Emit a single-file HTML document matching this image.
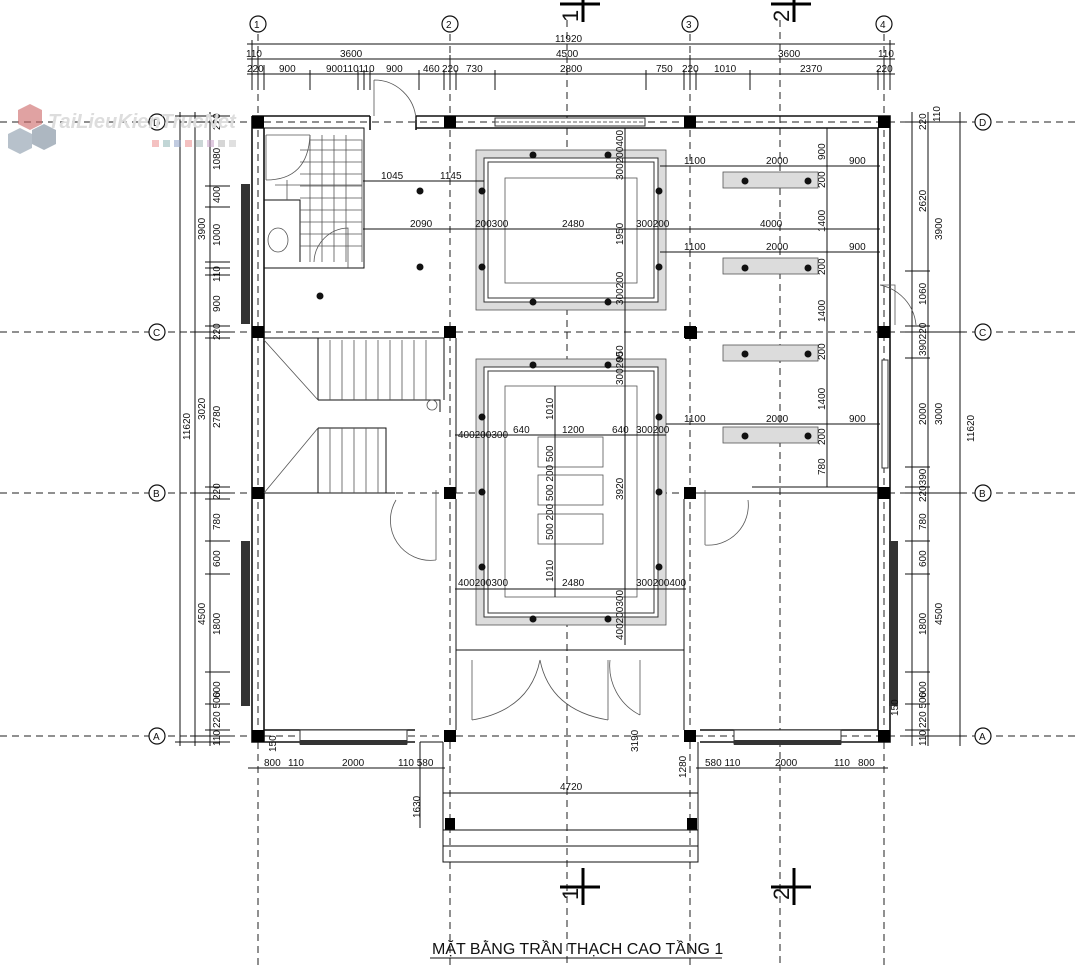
<!DOCTYPE html>
<html><head><meta charset="utf-8"><style>
html,body{margin:0;padding:0;background:#fff}
svg{display:block}
text{font-family:"Liberation Sans",sans-serif;font-size:10px;fill:#111}
.ln{stroke:#111;stroke-width:1;fill:none}
.th{stroke:#111;stroke-width:1.6;fill:none}
.dsh{stroke:#222;stroke-width:1;stroke-dasharray:7 5;fill:none}
.hat{fill:#dcdcdc;stroke:#555;stroke-width:0.8}
.col{fill:#000}
.gc{fill:#fff;stroke:#111;stroke-width:1.2}
.dot{fill:#111}
.thin{stroke:#555;stroke-width:0.8;fill:none}
</style></head><body>
<svg width="1080" height="965" viewBox="0 0 1080 965" xmlns="http://www.w3.org/2000/svg">
<g class="dsh">
<line x1="258" y1="34" x2="258" y2="965"/><line x1="450" y1="34" x2="450" y2="965"/>
<line x1="690" y1="34" x2="690" y2="965"/><line x1="884" y1="34" x2="884" y2="965"/>
<line x1="567" y1="20" x2="567" y2="965"/><line x1="780" y1="20" x2="780" y2="965"/>
<line x1="0" y1="122" x2="1080" y2="122"/><line x1="0" y1="332" x2="1080" y2="332"/>
<line x1="0" y1="493" x2="1080" y2="493"/><line x1="0" y1="736" x2="1080" y2="736"/>
</g>
<g>
<circle class="gc" cx="258" cy="24" r="8"/><text x="254" y="28">1</text>
<circle class="gc" cx="450" cy="24" r="8"/><text x="446" y="28">2</text>
<circle class="gc" cx="690" cy="24" r="8"/><text x="686" y="28">3</text>
<circle class="gc" cx="884" cy="24" r="8"/><text x="880" y="28">4</text>
<circle class="gc" cx="157" cy="122" r="8"/><text x="153" y="126">D</text>
<circle class="gc" cx="157" cy="332" r="8"/><text x="153" y="336">C</text>
<circle class="gc" cx="157" cy="493" r="8"/><text x="153" y="497">B</text>
<circle class="gc" cx="157" cy="736" r="8"/><text x="153" y="740">A</text>
<circle class="gc" cx="983" cy="122" r="8"/><text x="979" y="126">D</text>
<circle class="gc" cx="983" cy="332" r="8"/><text x="979" y="336">C</text>
<circle class="gc" cx="983" cy="493" r="8"/><text x="979" y="497">B</text>
<circle class="gc" cx="983" cy="736" r="8"/><text x="979" y="740">A</text>
</g>
<g stroke="#000" stroke-width="3">
<line x1="583" y1="0" x2="583" y2="22"/><line x1="560" y1="4" x2="600" y2="4"/>
<line x1="794" y1="0" x2="794" y2="22"/><line x1="771" y1="4" x2="811" y2="4"/>
<line x1="583" y1="868" x2="583" y2="905"/><line x1="560" y1="887" x2="600" y2="887"/>
<line x1="794" y1="868" x2="794" y2="905"/><line x1="771" y1="887" x2="811" y2="887"/>
</g>
<text style="font-size:22px" transform="translate(578 22) rotate(-90)">1</text>
<text style="font-size:22px" transform="translate(789 22) rotate(-90)">2</text>
<text style="font-size:22px" transform="translate(578 900) rotate(-90)">1</text>
<text style="font-size:22px" transform="translate(789 900) rotate(-90)">2</text>
<g class="ln">
<line x1="247" y1="44" x2="895" y2="44"/><line x1="247" y1="59" x2="895" y2="59"/><line x1="247" y1="74" x2="895" y2="74"/>
<line x1="252" y1="40" x2="252" y2="90"/><line x1="890" y1="40" x2="890" y2="90"/>
<line x1="258" y1="55" x2="258" y2="90"/><line x1="264" y1="65" x2="264" y2="90"/><line x1="310" y1="70" x2="310" y2="90"/>
<line x1="358" y1="70" x2="358" y2="90"/><line x1="364" y1="70" x2="364" y2="90"/><line x1="370" y1="70" x2="370" y2="90"/>
<line x1="419" y1="70" x2="419" y2="90"/><line x1="444" y1="70" x2="444" y2="90"/><line x1="450" y1="55" x2="450" y2="90"/><line x1="456" y1="70" x2="456" y2="90"/>
<line x1="495" y1="70" x2="495" y2="90"/><line x1="646" y1="70" x2="646" y2="90"/><line x1="684" y1="70" x2="684" y2="90"/><line x1="690" y1="55" x2="690" y2="90"/><line x1="696" y1="70" x2="696" y2="90"/>
<line x1="750" y1="70" x2="750" y2="90"/><line x1="878" y1="70" x2="878" y2="90"/><line x1="884" y1="55" x2="884" y2="90"/>
</g>
<text x="555" y="42">11920</text>
<text x="246" y="57">110</text><text x="340" y="57">3600</text><text x="556" y="57">4500</text><text x="778" y="57">3600</text><text x="878" y="57">110</text>
<text x="247" y="72">220</text><text x="279" y="72">900</text><text x="326" y="72">900110110</text><text x="386" y="72">900</text><text x="423" y="72">460</text><text x="442" y="72">220</text><text x="466" y="72">730</text><text x="560" y="72">2800</text><text x="656" y="72">750</text><text x="682" y="72">220</text><text x="714" y="72">1010</text><text x="800" y="72">2370</text><text x="876" y="72">220</text>
<g class="ln">
<line x1="180" y1="112" x2="180" y2="746"/><line x1="195" y1="112" x2="195" y2="746"/><line x1="210" y1="112" x2="210" y2="746"/>
<line x1="175" y1="116" x2="230" y2="116"/><line x1="175" y1="742" x2="230" y2="742"/>
<line x1="190" y1="122" x2="230" y2="122"/><line x1="190" y1="332" x2="230" y2="332"/><line x1="190" y1="493" x2="230" y2="493"/><line x1="190" y1="736" x2="230" y2="736"/>
<line x1="205" y1="186" x2="230" y2="186"/><line x1="205" y1="207" x2="230" y2="207"/><line x1="205" y1="262" x2="230" y2="262"/><line x1="205" y1="268" x2="230" y2="268"/><line x1="205" y1="275" x2="230" y2="275"/><line x1="205" y1="326" x2="230" y2="326"/>
<line x1="205" y1="338" x2="230" y2="338"/><line x1="205" y1="487" x2="230" y2="487"/><line x1="205" y1="499" x2="230" y2="499"/><line x1="205" y1="541" x2="230" y2="541"/><line x1="205" y1="574" x2="230" y2="574"/><line x1="205" y1="672" x2="230" y2="672"/><line x1="205" y1="704" x2="230" y2="704"/><line x1="205" y1="730" x2="230" y2="730"/>
</g>
<g>
<text transform="translate(190 440) rotate(-90)">11620</text>
<text transform="translate(205 240) rotate(-90)">3900</text>
<text transform="translate(205 420) rotate(-90)">3020</text>
<text transform="translate(205 625) rotate(-90)">4500</text>
<text transform="translate(220 130) rotate(-90)">220</text>
<text transform="translate(220 170) rotate(-90)">1080</text>
<text transform="translate(220 203) rotate(-90)">400</text>
<text transform="translate(220 246) rotate(-90)">1000</text>
<text transform="translate(220 282) rotate(-90)">110</text>
<text transform="translate(220 312) rotate(-90)">900</text>
<text transform="translate(220 340) rotate(-90)">220</text>
<text transform="translate(220 428) rotate(-90)">2780</text>
<text transform="translate(220 500) rotate(-90)">220</text>
<text transform="translate(220 530) rotate(-90)">780</text>
<text transform="translate(220 567) rotate(-90)">600</text>
<text transform="translate(220 635) rotate(-90)">1800</text>
<text transform="translate(220 698) rotate(-90)">600</text>
<text transform="translate(220 728) rotate(-90)">220 500</text>
<text transform="translate(220 746) rotate(-90)">110</text>
</g>
<g class="ln">
<line x1="912" y1="112" x2="912" y2="746"/><line x1="928" y1="112" x2="928" y2="746"/><line x1="960" y1="112" x2="960" y2="746"/>
<line x1="905" y1="122" x2="965" y2="122"/><line x1="905" y1="332" x2="965" y2="332"/><line x1="905" y1="493" x2="965" y2="493"/><line x1="905" y1="736" x2="965" y2="736"/>
<line x1="905" y1="271" x2="930" y2="271"/><line x1="905" y1="326" x2="930" y2="326"/><line x1="905" y1="358" x2="930" y2="358"/><line x1="905" y1="467" x2="930" y2="467"/><line x1="905" y1="487" x2="930" y2="487"/>
<line x1="905" y1="541" x2="930" y2="541"/><line x1="905" y1="574" x2="930" y2="574"/><line x1="905" y1="672" x2="930" y2="672"/><line x1="905" y1="704" x2="930" y2="704"/><line x1="905" y1="730" x2="930" y2="730"/>
</g>
<g>
<text transform="translate(926 130) rotate(-90)">220</text>
<text transform="translate(940 122) rotate(-90)">110</text>
<text transform="translate(926 212) rotate(-90)">2620</text>
<text transform="translate(942 240) rotate(-90)">3900</text>
<text transform="translate(926 305) rotate(-90)">1060</text>
<text transform="translate(926 356) rotate(-90)">390220</text>
<text transform="translate(926 425) rotate(-90)">2000</text>
<text transform="translate(942 425) rotate(-90)">3000</text>
<text transform="translate(974 442) rotate(-90)">11620</text>
<text transform="translate(926 502) rotate(-90)">220390</text>
<text transform="translate(926 530) rotate(-90)">780</text>
<text transform="translate(926 567) rotate(-90)">600</text>
<text transform="translate(926 635) rotate(-90)">1800</text>
<text transform="translate(942 625) rotate(-90)">4500</text>
<text transform="translate(926 698) rotate(-90)">600</text>
<text transform="translate(926 728) rotate(-90)">220 500</text>
<text transform="translate(926 746) rotate(-90)">110</text>
</g>
<g class="th">
<path d="M252 116 H370 M252 128 H264 M264 128 V742 M252 116 V742 H415"/>
<path d="M416 116 H890 V742 H700 M416 128 H878 V730"/>
<path d="M264 730 H415"/>
<path d="M700 730 H878"/>
<path d="M370 116 V130 M416 116 V130"/>
</g>
<rect x="495" y="118" width="150" height="8" fill="#fff" stroke="#333"/>
<line x1="495" y1="122" x2="645" y2="122" stroke="#666" stroke-dasharray="4 2"/>
<rect x="241" y="184" width="9" height="140" fill="#333"/>
<rect x="241" y="541" width="9" height="165" fill="#333"/>
<rect x="889" y="541" width="9" height="165" fill="#333"/>
<rect x="882" y="360" width="6" height="108" fill="#fff" stroke="#333"/>
<rect x="300" y="730" width="107" height="14" fill="#fff" stroke="#333"/>
<rect x="300" y="740" width="107" height="5" fill="#333"/>
<rect x="734" y="730" width="107" height="14" fill="#fff" stroke="#333"/>
<rect x="734" y="740" width="107" height="5" fill="#333"/>
<g class="col">
<rect x="252" y="116" width="12" height="12"/><rect x="444" y="116" width="12" height="12"/><rect x="684" y="116" width="12" height="12"/><rect x="878" y="116" width="12" height="12"/>
<rect x="252" y="326" width="12" height="12"/><rect x="444" y="326" width="12" height="12"/><rect x="684" y="326" width="12" height="12"/><rect x="878" y="326" width="12" height="12"/>
<rect x="252" y="487" width="12" height="12"/><rect x="444" y="487" width="12" height="12"/><rect x="684" y="487" width="12" height="12"/><rect x="878" y="487" width="12" height="12"/>
<rect x="252" y="730" width="12" height="12"/><rect x="444" y="730" width="12" height="12"/><rect x="684" y="730" width="12" height="12"/><rect x="878" y="730" width="12" height="12"/>
<rect x="445" y="818" width="10" height="12"/><rect x="687" y="818" width="10" height="12"/>
</g>
<path class="thin" d="M374 80 V116 M374 80 A42 42 0 0 1 416 120"/>
<g class="ln">
<rect x="264" y="128" width="100" height="140"/>
<path d="M264 200 H300 V262"/>
</g>
<g class="thin">
<path d="M266 135 H310 M266 135 V180 M266 180 Q308 180 310 135" />
<path d="M310 140 H362 V262 M300 150 H362 M300 162 H362 M300 174 H362 M300 186 H362 M300 198 H362 M300 210 H362 M300 222 H362 M300 234 H362 M300 246 H362 M275 185 H362"/>
<path d="M310 135 V262 M322 135 V262 M334 135 V262 M346 135 V262 M287 180 V200"/>
<ellipse cx="278" cy="240" rx="10" ry="12"/>
<path d="M314 262 A35 35 0 0 1 348 228 V268"/>
</g>
<g class="ln">
<path d="M264 338 H444 V400 M264 493 H395"/>
<path d="M318 338 V400 M318 428 V493 M318 400 H440 V412 M318 428 H386 V493"/>
</g>
<g class="thin">
<path d="M330 340 V400 M342 340 V400 M354 340 V400 M366 340 V400 M378 340 V400 M390 340 V400 M402 340 V400 M414 340 V400 M426 340 V400"/>
<path d="M330 428 V493 M342 428 V493 M354 428 V493 M366 428 V493 M378 428 V493"/>
<path d="M264 340 L318 400 M264 493 L318 428"/>
<circle cx="432" cy="405" r="5"/>
</g>
<g class="ln">
<path d="M456 338 V493 M456 499 V650 H684 V499"/>
<path d="M700 493 H878 M752 487 H878"/>
<path d="M456 650 V730 M684 650 V730"/>
</g>
<g class="thin">
<path d="M436 490 V560 M436 560 A40 40 0 0 1 396 500"/>
<path d="M705 490 V545 M705 545 A40 40 0 0 0 748 500"/>
<path d="M472 660 V720 M472 720 Q530 710 540 660 M608 660 V720 M608 720 Q550 710 540 660"/>
<path d="M640 660 V715 M640 715 A55 55 0 0 1 610 660"/>
<path d="M880 285 H895 V325 M880 285 A45 45 0 0 1 916 325"/>
</g>
<g class="ln">
<path d="M443 742 V862 H698 V742"/>
<path d="M443 830 H698 M443 846 H698"/>
<path d="M443 793 H698"/>
<path d="M420 742 V828 M420 742 H443"/>
</g>
<text x="560" y="790">4720</text>
<text transform="translate(420 818) rotate(-90)">1630</text>
<text transform="translate(686 778) rotate(-90)">1280</text>
<text transform="translate(638 752) rotate(-90)">3190</text>
<g class="ln"><line x1="248" y1="768" x2="445" y2="768"/><line x1="696" y1="768" x2="888" y2="768"/></g>
<text x="264" y="766">800</text><text x="288" y="766">110</text><text x="342" y="766">2000</text><text x="398" y="766">110 580</text>
<text x="705" y="766">580 110</text><text x="775" y="766">2000</text><text x="834" y="766">110</text><text x="858" y="766">800</text>
<text transform="translate(276 752) rotate(-90)">150</text><text transform="translate(898 716) rotate(-90)">150</text>
<rect class="hat" x="476" y="150" width="190" height="160"/>
<rect fill="#fff" stroke="#333" x="484" y="158" width="174" height="144"/>
<rect fill="none" stroke="#333" x="488" y="162" width="166" height="136"/>
<rect class="thin" x="505" y="178" width="132" height="105"/>
<rect class="hat" x="476" y="359" width="190" height="266"/>
<rect fill="#fff" stroke="#333" x="484" y="367" width="174" height="250"/>
<rect fill="none" stroke="#333" x="488" y="371" width="166" height="242"/>
<rect class="thin" x="505" y="386" width="132" height="211"/>
<rect class="thin" x="538" y="437" width="65" height="30"/>
<rect class="thin" x="538" y="475" width="65" height="30"/>
<rect class="thin" x="538" y="514" width="65" height="30"/>
<rect class="hat" x="723" y="172" width="95" height="16"/>
<rect class="hat" x="723" y="258" width="95" height="16"/>
<rect class="hat" x="723" y="345" width="95" height="16"/>
<rect class="hat" x="723" y="427" width="95" height="16"/>
<rect class="col" x="685" y="327" width="12" height="12"/>
<g class="dot">
<circle cx="533" cy="155" r="3.5"/><circle cx="608" cy="155" r="3.5"/><circle cx="533" cy="302" r="3.5"/><circle cx="608" cy="302" r="3.5"/>
<circle cx="482" cy="191" r="3.5"/><circle cx="482" cy="267" r="3.5"/><circle cx="659" cy="191" r="3.5"/><circle cx="659" cy="267" r="3.5"/>
<circle cx="420" cy="191" r="3.5"/><circle cx="420" cy="267" r="3.5"/><circle cx="320" cy="296" r="3.5"/>
<circle cx="533" cy="365" r="3.5"/><circle cx="608" cy="365" r="3.5"/><circle cx="533" cy="619" r="3.5"/><circle cx="608" cy="619" r="3.5"/>
<circle cx="482" cy="417" r="3.5"/><circle cx="482" cy="492" r="3.5"/><circle cx="482" cy="567" r="3.5"/>
<circle cx="659" cy="417" r="3.5"/><circle cx="659" cy="492" r="3.5"/><circle cx="659" cy="567" r="3.5"/>
<circle cx="745" cy="181" r="3.5"/><circle cx="808" cy="181" r="3.5"/><circle cx="745" cy="268" r="3.5"/><circle cx="808" cy="268" r="3.5"/>
<circle cx="745" cy="354" r="3.5"/><circle cx="808" cy="354" r="3.5"/><circle cx="745" cy="436" r="3.5"/><circle cx="808" cy="436" r="3.5"/>
</g>
<g class="ln">
<line x1="363" y1="181" x2="484" y2="181"/><line x1="363" y1="229" x2="880" y2="229"/>
<line x1="660" y1="166" x2="880" y2="166"/><line x1="660" y1="252" x2="880" y2="252"/>
<line x1="455" y1="435" x2="666" y2="435"/><line x1="666" y1="424" x2="880" y2="424"/><line x1="455" y1="589" x2="686" y2="589"/>
<line x1="827" y1="128" x2="827" y2="487"/><line x1="625" y1="128" x2="625" y2="645"/>
<line x1="555" y1="386" x2="555" y2="597"/>
</g>
<g>
<text x="381" y="179">1045</text><text x="440" y="179">1145</text>
<text x="410" y="227">2090</text><text x="475" y="227">200300</text><text x="562" y="227">2480</text><text x="636" y="227">300200</text><text x="760" y="227">4000</text>
<text x="684" y="164">1100</text><text x="766" y="164">2000</text><text x="849" y="164">900</text>
<text x="684" y="250">1100</text><text x="766" y="250">2000</text><text x="849" y="250">900</text>
<text x="684" y="422">1100</text><text x="766" y="422">2000</text><text x="849" y="422">900</text>
<text x="458" y="438">400200300</text><text x="513" y="433">640</text><text x="562" y="433">1200</text><text x="612" y="433">640</text><text x="636" y="433">300200</text>
<text x="458" y="586">400200300</text><text x="562" y="586">2480</text><text x="636" y="586">300200400</text>
<text transform="translate(825 160) rotate(-90)">900</text><text transform="translate(825 188) rotate(-90)">200</text><text transform="translate(825 232) rotate(-90)">1400</text>
<text transform="translate(825 275) rotate(-90)">200</text><text transform="translate(825 322) rotate(-90)">1400</text><text transform="translate(825 360) rotate(-90)">200</text>
<text transform="translate(825 410) rotate(-90)">1400</text><text transform="translate(825 445) rotate(-90)">200</text><text transform="translate(825 475) rotate(-90)">780</text>
<text transform="translate(623 180) rotate(-90)">300200400</text><text transform="translate(623 245) rotate(-90)">1950</text><text transform="translate(623 305) rotate(-90)">300200</text>
<text transform="translate(623 362) rotate(-90)">950</text><text transform="translate(623 385) rotate(-90)">300200</text><text transform="translate(623 500) rotate(-90)">3920</text><text transform="translate(623 640) rotate(-90)">400200300</text>
<text transform="translate(553 420) rotate(-90)">1010</text><text transform="translate(553 540) rotate(-90)">500 200 500 200 500</text><text transform="translate(553 582) rotate(-90)">1010</text>
</g>
<g opacity="0.6">
<polygon points="30,104 42,110 42,124 30,130 18,124 18,110" fill="#c66"/>
<polygon points="44,124 56,130 56,144 44,150 32,144 32,130" fill="#789"/>
<polygon points="20,128 32,134 32,148 20,154 8,148 8,134" fill="#89a"/>
<rect x="152" y="140" width="7" height="7" fill="#e99"/><rect x="163" y="140" width="7" height="7" fill="#9bb"/><rect x="174" y="140" width="7" height="7" fill="#9ac"/><rect x="185" y="140" width="7" height="7" fill="#e99"/><rect x="196" y="140" width="7" height="7" fill="#abb"/><rect x="207" y="140" width="7" height="7" fill="#cac"/><rect x="218" y="140" width="7" height="7" fill="#bbb"/><rect x="229" y="140" width="7" height="7" fill="#ccc"/>
</g>
<text x="48" y="128" style="font-size:20px;fill:#ddd;font-style:italic;font-weight:bold">TaiLieuKienTrucNet</text>
<text x="432" y="954" style="font-size:16px">MẶT BẰNG TRẦN THẠCH CAO TẦNG 1</text>
<line x1="430" y1="958" x2="722" y2="958" stroke="#111"/>
</svg>
</body></html>
